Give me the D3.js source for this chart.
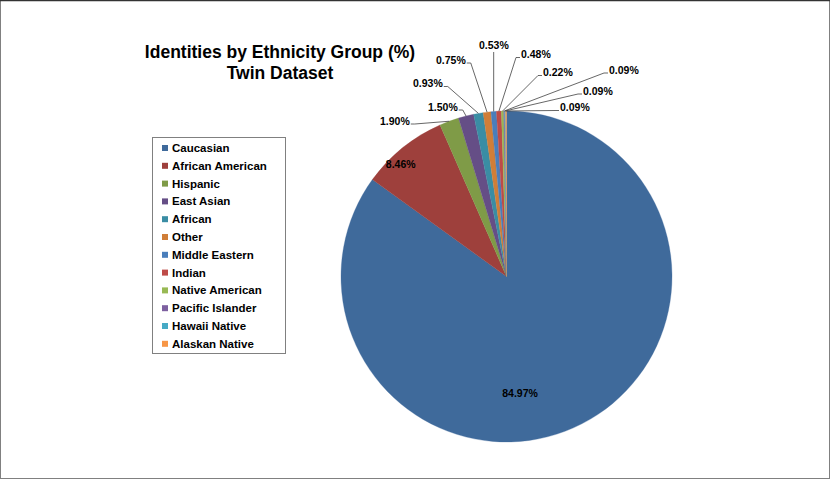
<!DOCTYPE html>
<html lang="en">
<head>
<meta charset="utf-8">
<script src="https://d3js.org/d3.v7.min.js"></script>
<style>
  body { margin: 0; background: #fff; }
  text { font-family: "Liberation Sans", Arial, sans-serif; font-weight: bold; fill: #000; }
</style>
</head>
<body>
<script>

// chart data
var groups = ["Caucasian", "African American", "Hispanic", "East Asian", "African", "Other",
  "Middle Eastern", "Indian", "Native American", "Pacific Islander", "Hawaii Native", "Alaskan Native"];
var shares = [84.97, 8.46, 1.90, 1.50, 0.93, 0.75, 0.53, 0.48, 0.22, 0.09, 0.09, 0.09];
var colors = ["#3f6a9b", "#9e403c", "#7f9b47", "#654e86", "#3a8da4", "#d07e38",
  "#4a7ebb", "#be4b48", "#98b954", "#7d60a0", "#46aac5", "#f79646"];
var titleLines = ["Identities by Ethnicity Group (%)", "Twin Dataset"];

// label placement (layout only): inside labels in polar form, outside ones as text position
var insideLabels = { 0: [173.4, 0.71], 1: [316.6, 0.93] };
var outsideLabels = {
  2: [380, 121, "right"], 3: [428, 107, "right"], 4: [413, 83.5, "right"], 5: [436, 60, "right"],
  6: [479, 45, "below"], 7: [521, 54.5, "left"], 8: [543, 72.5, "left"],
  9: [609, 70, "left"], 10: [583, 91, "left"], 11: [560, 107.5, "left"]
};

var width = 830, height = 479;
var cx = 506.5, cy = 276.5, radius = 165.5;

var svg = d3.select("body").append("svg")
  .attr("width", width)
  .attr("height", height);

// frame
svg.append("rect")
  .attr("x", 0.5).attr("y", 0.5)
  .attr("width", width - 1).attr("height", height - 1)
  .attr("fill", "#fff").attr("stroke", "#808080");
svg.append("line").attr("x1", 0).attr("x2", width).attr("y1", 0.5).attr("y2", 0.5)
  .attr("stroke", "#333").attr("stroke-width", 1.5);

// title
svg.append("text")
  .attr("x", 280).attr("y", 58)
  .attr("text-anchor", "middle")
  .style("font-size", "17.5px")
  .selectAll("tspan").data(titleLines).enter().append("tspan")
  .attr("x", 280)
  .attr("dy", function(d, i) { return i ? 21 : 0; })
  .text(function(d) { return d; });

// pie
var pie = d3.pie().sort(null).value(function(d) { return d; });
var arcs = pie(shares);
var arc = d3.arc().innerRadius(0).outerRadius(radius);
var edge = d3.arc().innerRadius(radius).outerRadius(radius);

var g = svg.append("g").attr("transform", "translate(" + cx + "," + cy + ")");

g.selectAll("path.slice").data(arcs).enter().append("path")
  .attr("class", "slice")
  .attr("d", arc)
  .attr("fill", function(d, i) { return colors[i]; })
  .attr("stroke", function(d, i) { return colors[i]; })
  .attr("stroke-width", 0.3);

function fmt(v) { return v.toFixed(2) + "%"; }

// inside labels
Object.keys(insideLabels).forEach(function(k) {
  var p = insideLabels[k];
  var a = p[0] * Math.PI / 180, r = p[1] * radius;
  g.append("text")
    .attr("x", r * Math.sin(a))
    .attr("y", -r * Math.cos(a) + 3.5)
    .attr("text-anchor", "middle")
    .style("font-size", "10.5px")
    .text(fmt(shares[k]));
});

// outside labels + leader lines
Object.keys(outsideLabels).forEach(function(k) {
  var p = outsideLabels[k];
  var t = svg.append("text")
    .attr("x", p[0]).attr("y", p[1] + 3.7)
    .style("font-size", "10.5px")
    .text(fmt(shares[k]));
  var w = t.node().getComputedTextLength();
  var e = edge.centroid(arcs[k]);
  var ex = cx + e[0], ey = cy + e[1];
  var pts;
  if (p[2] == "right") {
    pts = [[p[0] + w + 1, p[1] + 3], [p[0] + w + 5, p[1] + 3], [ex, ey]];
  } else if (p[2] == "left") {
    pts = [[p[0] - 1, p[1] + 3], [p[0] - 5, p[1] + 3], [ex, ey]];
  } else {
    pts = [[ex, p[1] + 7], [ex, ey]];
  }
  svg.append("path")
    .attr("d", d3.line()(pts))
    .attr("fill", "none")
    .attr("stroke", "#404040")
    .attr("stroke-width", 0.8);
});

// legend
var lx = 152, ly = 137, step = 17.8;
svg.append("rect")
  .attr("x", lx + 0.5).attr("y", ly + 0.5)
  .attr("width", 133).attr("height", 216)
  .attr("fill", "#fff").attr("stroke", "#808080");

var items = svg.selectAll("g.item").data(groups).enter().append("g")
  .attr("class", "item")
  .attr("transform", function(d, i) { return "translate(" + (lx + 10) + "," + (ly + 11 + i * step) + ")"; });

items.append("rect")
  .attr("x", 0).attr("y", -3).attr("width", 6).attr("height", 6)
  .attr("fill", function(d, i) { return colors[i]; });

items.append("text")
  .attr("x", 10).attr("y", 4)
  .style("font-size", "11.5px")
  .text(function(d) { return d; });

</script>
</body>
</html>
